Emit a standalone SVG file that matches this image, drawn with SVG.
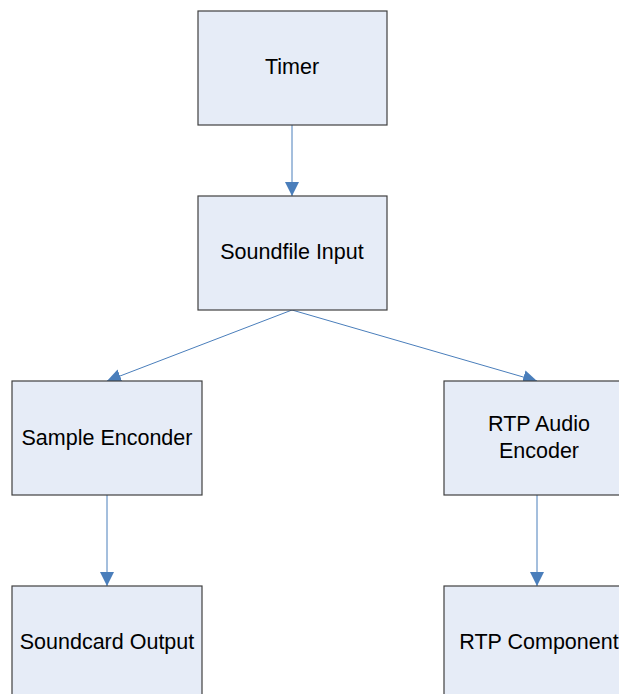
<svg xmlns="http://www.w3.org/2000/svg" width="619" height="694" viewBox="0 0 619 694">
<style>
.box{fill:#e6ecf7;stroke:#404040;stroke-width:1.2}
.lbl{font-family:"Liberation Sans",Arial,sans-serif;font-size:21.5px;fill:#000;text-anchor:middle}
.con{stroke:#4a7ebb;stroke-width:1;fill:none}
</style>
<defs>
<marker id="arr" viewBox="0 0 14 14" refX="14" refY="7" markerWidth="14" markerHeight="14" markerUnits="userSpaceOnUse" orient="auto">
<path d="M0,0 L14,7 L0,14 Z" fill="#4a7ebb"/>
</marker>
</defs>
<rect width="619" height="694" fill="#fff"/>
<g id="connectors">
<line class="con" x1="292" y1="125" x2="292" y2="196" marker-end="url(#arr)"/>
<line class="con" x1="292" y1="310" x2="107" y2="381" marker-end="url(#arr)"/>
<line class="con" x1="292" y1="310" x2="537" y2="381" marker-end="url(#arr)"/>
<line class="con" x1="107" y1="495" x2="107" y2="586" marker-end="url(#arr)"/>
<line class="con" x1="537" y1="495" x2="537" y2="586" marker-end="url(#arr)"/>
</g>
<g id="timer"><rect class="box" x="198" y="11" width="189" height="114"/><text class="lbl" x="292" y="74">Timer</text></g>
<g id="soundfile-input"><rect class="box" x="198" y="196" width="189" height="114"/><text class="lbl" x="292" y="259">Soundfile Input</text></g>
<g id="sample-encoder"><rect class="box" x="12" y="381" width="190" height="114"/><text class="lbl" x="107" y="445">Sample Enconder</text></g>
<g id="rtp-audio-encoder"><rect class="box" x="444" y="381" width="190" height="114"/><text class="lbl" x="539" y="431">RTP Audio</text><text class="lbl" x="539" y="458">Encoder</text></g>
<g id="soundcard-output"><rect class="box" x="12" y="586" width="190" height="114"/><text class="lbl" x="107" y="649">Soundcard Output</text></g>
<g id="rtp-component"><rect class="box" x="444" y="586" width="190" height="114"/><text class="lbl" x="539" y="649">RTP Component</text></g>
</svg>
